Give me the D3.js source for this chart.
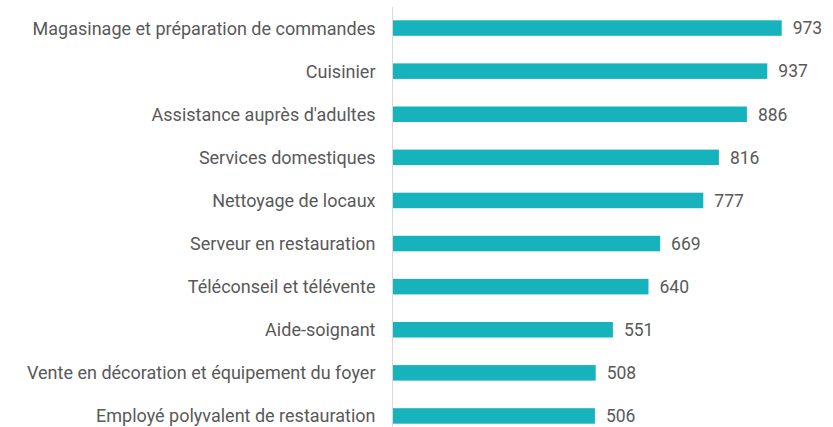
<script src="https://d3js.org/d3.v7.min.js"></script>
<style>
  body { margin: 0; background: #fff; }
  text { font-family: Roboto, "Open Sans", sans-serif; fill: #595959; }
</style>
<svg id="chart"></svg>
<script>
  var width = 833;
  var height = 427;

  var jobs = [
    "Magasinage et préparation de commandes",
    "Cuisinier",
    "Assistance auprès d'adultes",
    "Services domestiques",
    "Nettoyage de locaux",
    "Serveur en restauration",
    "Téléconseil et télévente",
    "Aide-soignant",
    "Vente en décoration et équipement du foyer",
    "Employé polyvalent de restauration"
  ];
  var counts = [973, 937, 886, 816, 777, 669, 640, 551, 508, 506];

  var axisX = 392.5;
  var barColor = "#17b3bd";

  var svg = d3.select("#chart").attr("width", width).attr("height", height);

  var x = d3.scaleLinear().domain([0, 1000]).range([axisX, axisX + 400]);
  var y = d3.scaleBand().domain(jobs).range([6.5, 437.5]).paddingInner(0.64).paddingOuter(0.32);

  // bars
  svg.selectAll("rect.bar")
    .data(counts)
    .enter().append("rect")
    .attr("class", "bar")
    .attr("x", x(0))
    .attr("y", function(d, i) { return y(jobs[i]); })
    .attr("width", function(d) { return x(d) - x(0); })
    .attr("height", y.bandwidth())
    .attr("fill", barColor);

  // value labels
  svg.selectAll("text.val")
    .data(counts)
    .enter().append("text")
    .attr("class", "val")
    .attr("x", function(d) { return x(d) + 11; })
    .attr("y", function(d, i) { return y(jobs[i]) + y.bandwidth() / 2; })
    .attr("dy", "0.36em")
    .style("font-size", "17.5px")
    .text(function(d) { return d; });

  // category labels
  svg.selectAll("text.cat")
    .data(jobs)
    .enter().append("text")
    .attr("class", "cat")
    .attr("x", axisX - 17)
    .attr("y", function(d) { return y(d) + y.bandwidth() / 2; })
    .attr("dy", "0.36em")
    .attr("text-anchor", "end")
    .style("font-size", "18px")
    .text(function(d) { return d; });

  // vertical axis line
  svg.append("line")
    .attr("x1", axisX).attr("x2", axisX)
    .attr("y1", 7).attr("y2", height)
    .attr("stroke", "#d9d9d9")
    .attr("stroke-width", 1);
</script>
